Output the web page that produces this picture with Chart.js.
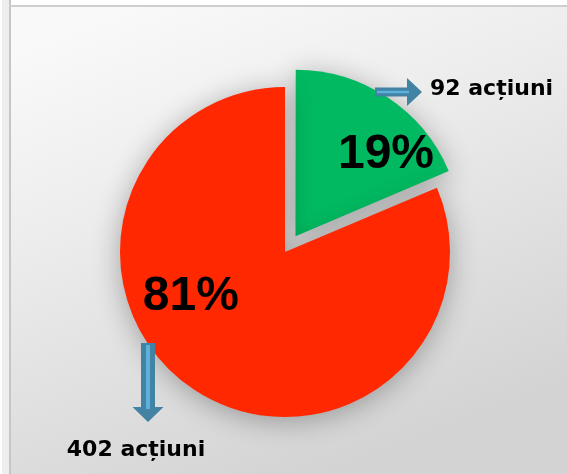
<!DOCTYPE html>
<html>
<head>
<meta charset="utf-8">
<script src="https://cdn.jsdelivr.net/npm/chart.js@4/dist/chart.umd.min.js"></script>
<style>
  html, body { margin: 0; padding: 0; background: #fff; }
  #wrap { width: 567px; height: 474px; position: relative; }
</style>
</head>
<body>
<div id="wrap"><canvas id="pie" width="567" height="474"></canvas></div>
<script>
// --- data ---
const categories = ['Grup 1', 'Grup 2'];
const counts = [92, 402];
const unitLabel = 'acțiuni';

const total = counts.reduce((a, b) => a + b, 0);

function drawArrow(ctx, x1, y1, x2, y2, shaftW, headW, headL) {
  const ang = Math.atan2(y2 - y1, x2 - x1);
  const len = Math.hypot(x2 - x1, y2 - y1);
  ctx.save();
  ctx.translate(x1, y1);
  ctx.rotate(ang);
  ctx.beginPath();
  ctx.moveTo(0, -shaftW / 2);
  ctx.lineTo(len - headL, -shaftW / 2);
  ctx.lineTo(len - headL, -headW / 2);
  ctx.lineTo(len, 0);
  ctx.lineTo(len - headL, headW / 2);
  ctx.lineTo(len - headL, shaftW / 2);
  ctx.lineTo(0, shaftW / 2);
  ctx.closePath();
  ctx.fillStyle = '#4282a3';
  ctx.fill();
  // light stripe down the shaft
  ctx.strokeStyle = '#5cb0dc';
  ctx.lineWidth = Math.max(2, shaftW / 3.5);
  ctx.beginPath();
  ctx.moveTo(2, 0);
  ctx.lineTo(len - headL + 2, 0);
  ctx.stroke();
  ctx.restore();
}

const decor = {
  id: 'decor',
  beforeDraw(chart) {
    const ctx = chart.ctx;
    const w = chart.width, h = chart.height;
    ctx.save();
    ctx.fillStyle = '#ffffff';
    ctx.fillRect(0, 0, w, h);
    const g = ctx.createLinearGradient(150, 0, 330, h);
    g.addColorStop(0, '#f9f9f9');
    g.addColorStop(0.35, '#ededed');
    g.addColorStop(1, '#d3d3d3');
    ctx.fillStyle = g;
    ctx.fillRect(11, 7, w - 11, h - 7);
    // frame
    ctx.fillStyle = '#eeeeee';
    ctx.fillRect(2, 0, 7, h);
    ctx.fillStyle = '#c6c6c6';
    ctx.fillRect(9, 0, 2, h);
    ctx.fillStyle = '#cecece';
    ctx.fillRect(9, 5, w - 9, 2);
    ctx.restore();
  },
  beforeDatasetsDraw(chart) {
    const ctx = chart.ctx;
    ctx.save();
    ctx.shadowColor = 'rgba(0,0,0,0.3)';
    ctx.shadowBlur = 28;
    ctx.shadowOffsetX = 0;
    ctx.shadowOffsetY = 4;
  },
  afterDatasetsDraw(chart) {
    const ctx = chart.ctx;
    ctx.restore();
    const arcs = chart.getDatasetMeta(0).data;
    const cx = arcs[1].x, cy = arcs[1].y, r = arcs[1].outerRadius;

    // percentages inside the slices
    const spots = [
      { a: -44.3, d: 0.855 },
      { a: 155, d: 0.63 }
    ];
    ctx.save();
    ctx.fillStyle = '#000';
    ctx.font = 'bold 48px "Liberation Sans", Arial, sans-serif';
    ctx.textAlign = 'center';
    ctx.textBaseline = 'middle';
    counts.forEach((v, i) => {
      const rad = spots[i].a * Math.PI / 180;
      const x = cx + Math.cos(rad) * r * spots[i].d;
      const y = cy + Math.sin(rad) * r * spots[i].d;
      ctx.fillText(Math.round(v / total * 100) + '%', x, y + 1);
    });

    // callout arrows and counts
    drawArrow(ctx, cx + 90, cy - 160, cx + 137, cy - 160, 9, 28, 15);
    drawArrow(ctx, cx - 137, cy + 91, cx - 137, cy + 170, 14, 31, 15);

    ctx.font = 'bold 22px "DejaVu Sans", Verdana, sans-serif';
    ctx.textBaseline = 'alphabetic';
    ctx.textAlign = 'left';
    ctx.fillText(counts[0] + ' ' + unitLabel, cx + 145, cy - 157);
    ctx.textAlign = 'center';
    ctx.fillText(counts[1] + ' ' + unitLabel, cx - 149, cy + 204);
    ctx.restore();
  }
};

new Chart(document.getElementById('pie'), {
  type: 'pie',
  data: {
    labels: categories,
    datasets: [{
      data: counts,
      backgroundColor: ['#00b960', '#ff2800'],
      borderWidth: 0,
      offset: [76, 0],
      hoverOffset: 0,
      clip: false
    }]
  },
  options: {
    responsive: false,
    animation: false,
    events: [],
    layout: { padding: { left: 82, right: 79, top: 49, bottom: 19 } },
    plugins: {
      legend: { display: false },
      tooltip: { enabled: false }
    }
  },
  plugins: [decor]
});
</script>
</body>
</html>
